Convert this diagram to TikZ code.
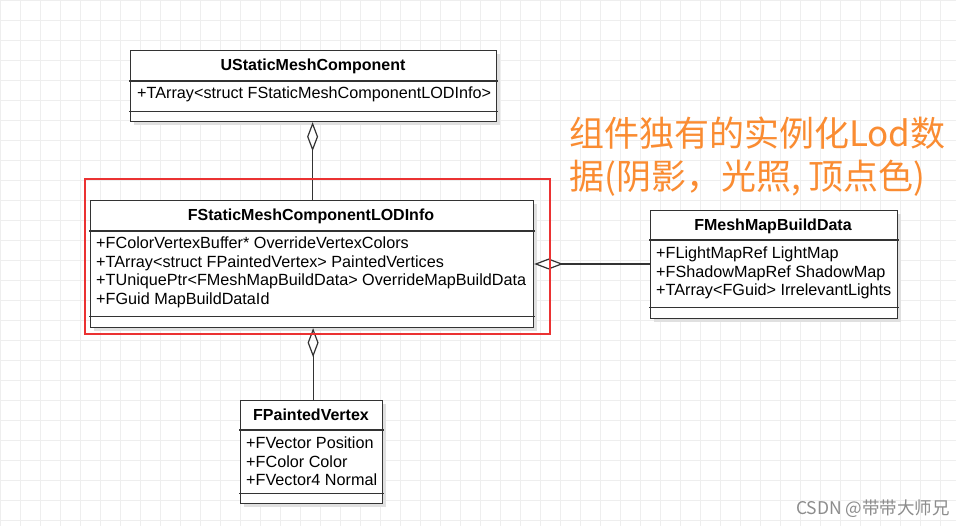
\documentclass[tikz,border=0pt]{standalone}
\usepackage{fontspec}
\setmainfont{Liberation Sans}
\newfontfamily\cjk{Noto Sans CJK SC}
\usetikzlibrary{arrows.meta,positioning}
\definecolor{gridcol}{RGB}{238,238,238}
\definecolor{notecol}{RGB}{250,140,50}
\definecolor{framecol}{RGB}{235,50,50}
\tikzset{
  umlbox/.style={draw=black!80,line width=1.2pt,fill=white,anchor=north west,inner sep=0pt},
  umlhead/.style={font=\fontsize{16pt}{18pt}\selectfont\bfseries,anchor=center,inner sep=0pt},
  umlattr/.style={font=\fontsize{16.2pt}{18.5pt}\selectfont,anchor=north west,align=left,inner sep=0pt},
  aggr/.style={draw=black!80,line width=1.2pt,{Diamond[open,length=29pt,width=11pt]}-},
}
\begin{document}
\begin{tikzpicture}[x=1pt,y=-1pt,line cap=rect]
  \useasboundingbox (0,0) rectangle (956,526);
  \fill[white] (0,0) rectangle (956,526);
  % background grid
  \foreach \gx in {0,20,...,940} \draw[gridcol,line width=0.6pt] (\gx,0) -- (\gx,526);
  \foreach \gy in {0,20,...,520} \draw[gridcol,line width=0.6pt] (0,\gy) -- (956,\gy);
  % shadows
  \fill[black!12] (134,54) rectangle (500,125);
  \fill[black!12] (94,204) rectangle (537,331);
  \fill[black!12] (654,214) rectangle (901,322);
  \fill[black!12] (244,404) rectangle (386,507);
  % class boxes
  \node[umlbox,minimum width=366pt,minimum height=71pt] (usm) at (130,50) {};
  \node[umlbox,minimum width=443pt,minimum height=127pt] (lod) at (90,200) {};
  \node[umlbox,minimum width=247pt,minimum height=108pt] (mmb) at (650,210) {};
  \node[umlbox,minimum width=142pt,minimum height=103pt] (pv) at (240,400) {};
  % separators
  \draw[black!80,line width=1.2pt] ([yshift=-31pt]usm.north west) -- ([yshift=-31pt]usm.north east);
  \draw[black!80,line width=1.2pt] ([yshift=11pt]usm.south west) -- ([yshift=11pt]usm.south east);
  \draw[black!80,line width=1.2pt] ([yshift=-31pt]lod.north west) -- ([yshift=-31pt]lod.north east);
  \draw[black!80,line width=1.2pt] ([yshift=12pt]lod.south west) -- ([yshift=12pt]lod.south east);
  \draw[black!80,line width=1.2pt] ([yshift=-30pt]mmb.north west) -- ([yshift=-30pt]mmb.north east);
  \draw[black!80,line width=1.2pt] ([yshift=12pt]mmb.south west) -- ([yshift=12pt]mmb.south east);
  \draw[black!80,line width=1.2pt] ([yshift=-30pt]pv.north west) -- ([yshift=-30pt]pv.north east);
  \draw[black!80,line width=1.2pt] ([yshift=11pt]pv.south west) -- ([yshift=11pt]pv.south east);
  % titles
  \node[umlhead] (usmT) at (313,66) {UStaticMeshComponent};
  \node[umlhead] (lodT) at (311,216) {FStaticMeshComponentLODInfo};
  \node[umlhead] (mmbT) at (773,226) {FMeshMapBuildData};
  \node[umlhead] (pvT) at (311,415) {FPaintedVertex};
  % attributes
  \node[umlattr] (usmA) at (137,87) {+TArray<struct FStaticMeshComponentLODInfo>};
  \node[umlattr] (lodA) at (96,237) {+FColorVertexBuffer* OverrideVertexColors\\
    +TArray<struct FPaintedVertex> PaintedVertices\\
    +TUniquePtr<FMeshMapBuildData> OverrideMapBuildData\\
    +FGuid MapBuildDataId};
  \node[umlattr] (mmbA) at (656,247) {+FLightMapRef LightMap\\
    +FShadowMapRef ShadowMap\\
    +TArray<FGuid> IrrelevantLights};
  \node[umlattr] (pvA) at (246,437) {+FVector Position\\
    +FColor Color\\
    +FVector4 Normal};
  % aggregations
  \draw[aggr] ([xshift=-1pt]usm.south) -- ([xshift=-1pt]usm.south |- lod.north);
  \draw[aggr] (lod.east |- 0,264) -- (mmb.west |- 0,264);
  \draw[aggr] ([xshift=1pt]lod.south) -- ([xshift=1pt]lod.south |- pv.north);
  % highlight frame
  \draw[framecol,line width=2pt] (85,179) rectangle (550,334);
  % note
  \node[text=notecol,font=\cjk\fontsize{35pt}{43pt}\selectfont,anchor=north west,align=left,inner sep=0pt] (note) at (569,117) {组件独有的实例化Lod数\\据(阴影，光照, 顶点色)};
  \node[text=black!45,font=\cjk\fontsize{17.5pt}{19pt}\selectfont,anchor=south east,inner sep=0pt] (mark) at (950,518) {CSDN @带带大师兄};
\end{tikzpicture}
\end{document}
